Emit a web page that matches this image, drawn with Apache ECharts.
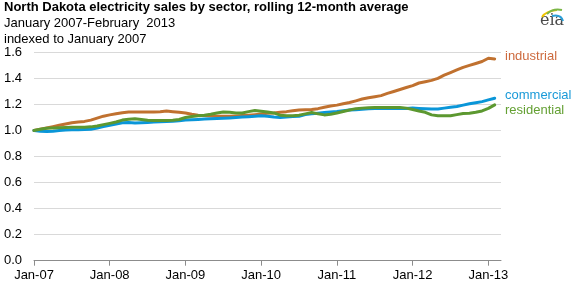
<!DOCTYPE html>
<html><head><meta charset="utf-8">
<script src="https://cdn.jsdelivr.net/npm/echarts@6/dist/echarts.min.js"></script>
<style>html,body{margin:0;padding:0;background:#fff}#c{width:574px;height:287px}</style>
</head><body><div id="c"></div>
<script>
const months = ['Jan','Feb','Mar','Apr','May','Jun','Jul','Aug','Sep','Oct','Nov','Dec'];
const categories = [];
for (let y = 7; y <= 13; y++) for (let m = 0; m < 12; m++) { if (y === 13 && m > 2) break; categories.push(months[m] + '-' + (y < 10 ? '0' + y : y)); }
const yTicks = [0, 0.2, 0.4, 0.6, 0.8, 1.0, 1.2, 1.4, 1.6];
const industrial = [1.000,1.010,1.020,1.030,1.040,1.050,1.060,1.065,1.070,1.080,1.095,1.110,
 1.120,1.128,1.136,1.142,1.142,1.142,1.142,1.142,1.145,1.150,1.145,1.140,
 1.135,1.125,1.118,1.115,1.112,1.110,1.110,1.110,1.112,1.115,1.118,1.122,
 1.127,1.132,1.135,1.140,1.145,1.152,1.158,1.160,1.162,1.168,1.178,1.188,
 1.195,1.205,1.215,1.228,1.242,1.252,1.260,1.268,1.285,1.300,1.315,1.330,
 1.345,1.365,1.375,1.385,1.400,1.425,1.445,1.465,1.485,1.500,1.515,1.530,
 1.555,1.550];
const commercial = [1.000,0.995,0.993,0.995,1.000,1.003,1.005,1.005,1.007,1.010,1.020,1.030,
 1.040,1.050,1.060,1.062,1.058,1.060,1.062,1.065,1.068,1.070,1.072,1.075,
 1.080,1.083,1.085,1.088,1.090,1.092,1.095,1.097,1.100,1.103,1.106,1.110,
 1.113,1.110,1.103,1.100,1.103,1.107,1.110,1.122,1.128,1.133,1.138,1.142,
 1.146,1.152,1.157,1.160,1.163,1.167,1.170,1.170,1.170,1.170,1.170,1.170,
 1.172,1.170,1.168,1.166,1.166,1.172,1.178,1.185,1.195,1.205,1.213,1.222,
 1.235,1.248];
const residential = [1.000,1.010,1.018,1.020,1.022,1.024,1.025,1.025,1.026,1.028,1.035,1.045,
 1.055,1.065,1.080,1.087,1.090,1.085,1.078,1.077,1.077,1.077,1.078,1.085,
 1.100,1.108,1.113,1.118,1.125,1.135,1.143,1.140,1.135,1.135,1.145,1.153,
 1.148,1.143,1.135,1.118,1.113,1.113,1.118,1.128,1.138,1.128,1.120,1.125,
 1.135,1.146,1.158,1.168,1.172,1.175,1.176,1.176,1.176,1.176,1.176,1.172,
 1.162,1.150,1.140,1.120,1.113,1.113,1.113,1.122,1.130,1.133,1.140,1.150,
 1.170,1.197];
const titleText = 'North Dakota electricity sales by sector, rolling 12-month average';
const subtitle1 = 'January 2007-February  2013';
const subtitle2 = 'indexed to January 2007';

const FONT = 'Arial, "Liberation Sans", sans-serif';
const chart = echarts.init(document.getElementById('c'), null, {renderer: 'canvas'});
const lineSeries = (name, data, color) => ({
  name, type: 'line', data, showSymbol: false, symbol: 'none', smooth: false,
  lineStyle: {color, width: 3, join: 'round', cap: 'round'}, itemStyle: {color}, animation: false, z: 3
});
chart.setOption({
  animation: false,
  grid: {left: 34, right: 73, top: 52.4, bottom: 26.3, containLabel: false},
  xAxis: {
    type: 'category', data: categories, boundaryGap: false,
    axisLine: {lineStyle: {color: '#8c8c8c', width: 1}},
    axisTick: {show: true, length: 5, interval: (i) => i % 12 === 0, lineStyle: {color: '#8c8c8c'}},
    axisLabel: {interval: (i) => i % 12 === 0, color: '#000', fontFamily: FONT, fontSize: 13, margin: 8},
    splitLine: {show: false}
  },
  yAxis: {
    type: 'value', min: yTicks[0], max: yTicks[yTicks.length - 1], interval: 0.2,
    axisLine: {show: false}, axisTick: {show: false},
    axisLabel: {color: '#000', fontFamily: FONT, fontSize: 13, margin: 12, formatter: (v) => v.toFixed(1)},
    splitLine: {lineStyle: {color: '#d9d9d9', width: 1}}
  },
  series: [
    lineSeries('industrial', industrial, '#c0712f'),
    lineSeries('commercial', commercial, '#0a96d8'),
    lineSeries('residential', residential, '#5c9830')
  ],
  graphic: [
    {type: 'text', left: 4, top: 1, style: {text: titleText, font: 'bold 13px ' + FONT, fill: '#000'}},
    {type: 'text', left: 4, top: 17, style: {text: subtitle1, font: '13px ' + FONT, fill: '#000'}},
    {type: 'text', left: 4, top: 33, style: {text: subtitle2, font: '13px ' + FONT, fill: '#000'}},
    {type: 'text', left: 505, top: 50, style: {text: 'industrial', font: '13px ' + FONT, fill: '#cd6a3e'}},
    {type: 'text', left: 505, top: 89, style: {text: 'commercial', font: '13px ' + FONT, fill: '#1a9ad8'}},
    {type: 'text', left: 505, top: 104, style: {text: 'residential', font: '13px ' + FONT, fill: '#64a033'}},
    // eia logo
    {type: 'text', left: 540, top: 13, style: {text: 'eia', font: '16px "DejaVu Serif", "Liberation Serif", serif', fill: '#4a4a4a'}},
    {type: 'bezierCurve', shape: {x1: 542, y1: 17, x2: 557, y2: 10, cpx1: 546, cpy1: 11}, style: {stroke: '#f2c500', lineWidth: 2, fill: null}},
    {type: 'bezierCurve', shape: {x1: 547, y1: 14, x2: 562, y2: 10, cpx1: 553, cpy1: 8}, style: {stroke: '#7ab648', lineWidth: 2, fill: null}},
    {type: 'bezierCurve', shape: {x1: 552, y1: 16, x2: 563, y2: 21, cpx1: 561, cpy1: 14}, style: {stroke: '#2a9fd8', lineWidth: 2, fill: null}}
  ]
});
</script></body></html>
